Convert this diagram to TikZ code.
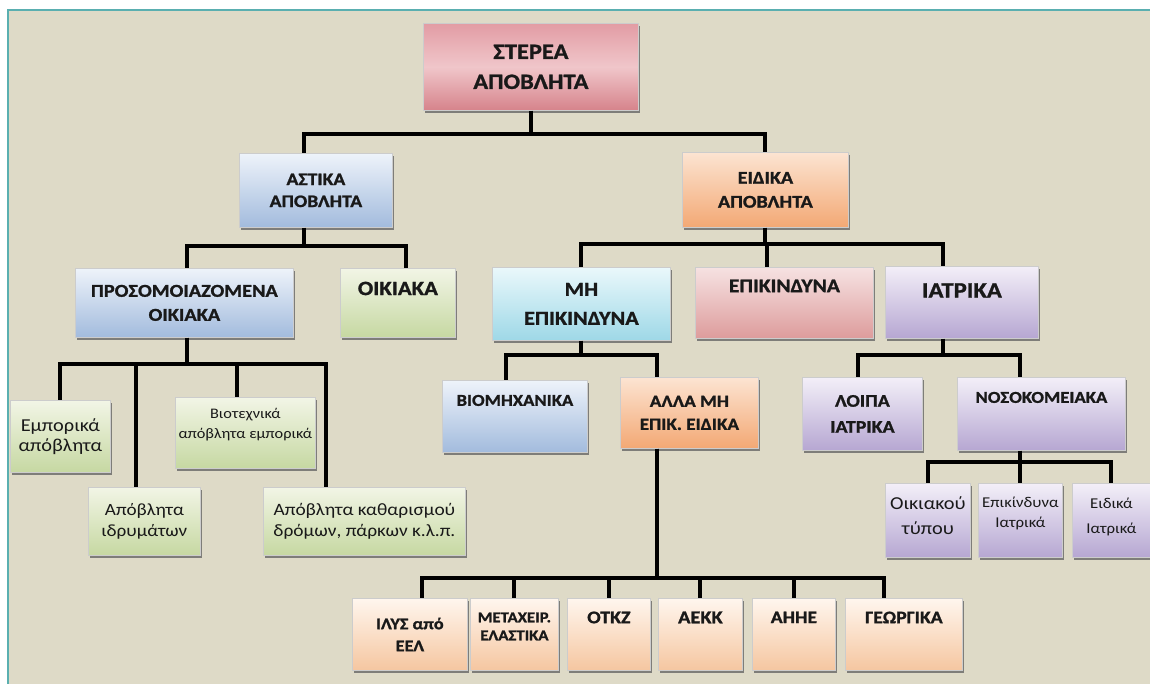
\documentclass[tikz,border=0pt]{standalone}
\usepackage{fontspec}
\setmainfont{Carlito}[FakeStretch=1.12, BoldFeatures={FakeBold=1.2}]
\usetikzlibrary{shadows}

\definecolor{bgbeige}{HTML}{DEDAC7}
\definecolor{frameteal}{HTML}{5AAFB0}
\definecolor{rootTop}{HTML}{E29CA4}
\definecolor{rootMid}{HTML}{F0C6CA}
\definecolor{rootBot}{HTML}{D6838B}
\definecolor{blueTop}{HTML}{EEF3FA}
\definecolor{blueBot}{HTML}{A2BBDD}
\definecolor{orngTop}{HTML}{FCE4D2}
\definecolor{orngBot}{HTML}{F3A874}
\definecolor{peachTop}{HTML}{FFF6EE}
\definecolor{peachBot}{HTML}{F5C6A0}
\definecolor{grnTop}{HTML}{F2F5E6}
\definecolor{grnBot}{HTML}{C6D8A2}
\definecolor{cyanTop}{HTML}{EAF8FB}
\definecolor{cyanBot}{HTML}{9ED8E7}
\definecolor{pinkTop}{HTML}{F6E2E2}
\definecolor{pinkBot}{HTML}{DD9C9C}
\definecolor{purpTop}{HTML}{F3EFF8}
\definecolor{purpBot}{HTML}{B6A7D2}

\newcommand{\fsz}[2]{\fontsize{\fpeval{#1*1.07}}{#2}\selectfont}

\tikzset{
    tbox/.style={anchor=north west, inner sep=0pt, align=center, draw=black!20,
        text=black!90,
        drop shadow={shadow xshift=0.8pt, shadow yshift=-1.5pt, fill=black!60, opacity=0.8}},
    rootbox/.style={tbox, top color=rootTop, bottom color=rootBot, middle color=rootMid},
    bluebox/.style={tbox, top color=blueTop, bottom color=blueBot},
    orngbox/.style={tbox, top color=orngTop, bottom color=orngBot},
    peachbox/.style={tbox, top color=peachTop, bottom color=peachBot},
    grnbox/.style={tbox, top color=grnTop, bottom color=grnBot},
    cyanbox/.style={tbox, top color=cyanTop, bottom color=cyanBot},
    pinkbox/.style={tbox, top color=pinkTop, bottom color=pinkBot},
    purpbox/.style={tbox, top color=purpTop, bottom color=purpBot},
    lift/.style={text depth=#1},
    conn/.style={line width=2pt, black},
}

\begin{document}
\begin{tikzpicture}[x=0.5pt, y=-0.5pt]
    \useasboundingbox (0,0) rectangle (1150,684);
    % background and frame
    \fill[white] (0,0) rectangle (1150,684);
    \fill[bgbeige] (8,10) rectangle (1150,684);
    \draw[frameteal, line width=1pt] (8,684) -- (8,10) -- (1150,10);

    % top levels
    \node[rootbox, minimum width=107.5pt, minimum height=43.5pt, font=\bfseries\fsz{10.2}{15}] (root) at (423,23) {ΣΤΕΡΕΑ\\ΑΠΟΒΛΗΤΑ};
    \node[bluebox, minimum width=76.5pt, minimum height=37pt, font=\bfseries\fsz{8.2}{11}] (asti) at (239,153) {ΑΣΤΙΚΑ\\ΑΠΟΒΛΗΤΑ};
    \node[orngbox, minimum width=83pt, minimum height=37.5pt, font=\bfseries\fsz{8.4}{12}] (eidi) at (682,152) {ΕΙΔΙΚΑ\\ΑΠΟΒΛΗΤΑ};

    % second level
    \node[bluebox, minimum width=109pt, minimum height=34.5pt, font=\bfseries\fsz{8.5}{12}] (pros) at (75,268) {ΠΡΟΣΟΜΟΙΑΖΟΜΕΝΑ\\ΟΙΚΙΑΚΑ};
    \node[grnbox, minimum width=57.5pt, minimum height=34.5pt, font=\bfseries\fsz{9.5}{12}, lift=14.5pt] (oiki) at (340,268) {ΟΙΚΙΑΚΑ};
    \node[cyanbox, minimum width=89pt, minimum height=36.5pt, font=\bfseries\fsz{9.3}{14.5}] (mhep) at (492,267) {ΜΗ\\ΕΠΙΚΙΝΔΥΝΑ};
    \node[pinkbox, minimum width=89pt, minimum height=35.5pt, font=\bfseries\fsz{9}{12}, lift=17pt] (epik) at (695,267) {ΕΠΙΚΙΝΔΥΝΑ};
    \node[purpbox, minimum width=76.5pt, minimum height=36pt, font=\bfseries\fsz{10.3}{12}, lift=12pt] (iatr) at (885,266) {ΙΑΤΡΙΚΑ};

    % third level
    \node[grnbox, minimum width=50pt, minimum height=36pt, font=\fsz{8.5}{10}] (empo) at (10,400) {Εμπορικά\\απόβλητα};
    \node[grnbox, minimum width=70pt, minimum height=35.5pt, font=\fsz{6.8}{10}, lift=9.5pt] (viot) at (175,397) {Βιοτεχνικά\\απόβλητα εμπορικά};
    \node[grnbox, minimum width=56pt, minimum height=34pt, font=\fsz{8}{10.5}] (idry) at (88,487) {Απόβλητα\\ιδρυμάτων};
    \node[grnbox, minimum width=101pt, minimum height=34pt, font=\fsz{8.1}{10.5}] (kath) at (263,487) {Απόβλητα καθαρισμού\\δρόμων, πάρκων κ.λ.π.};
    \node[bluebox, minimum width=72.5pt, minimum height=36pt, font=\bfseries\fsz{7.8}{10}, lift=16pt] (viom) at (442,380) {ΒΙΟΜΗΧΑΝΙΚΑ};
    \node[orngbox, minimum width=69pt, minimum height=35.5pt, font=\bfseries\fsz{8}{11.5}] (alla) at (620,377) {ΑΛΛΑ ΜΗ\\ΕΠΙΚ. ΕΙΔΙΚΑ};
    \node[purpbox, minimum width=60pt, minimum height=36.5pt, font=\bfseries\fsz{8.3}{13}] (loip) at (802,377) {ΛΟΙΠΑ\\ΙΑΤΡΙΚΑ};
    \node[purpbox, minimum width=84pt, minimum height=36.5pt, font=\bfseries\fsz{7.8}{10}, lift=16.5pt] (noso) at (957,377) {ΝΟΣΟΚΟΜΕΙΑΚΑ};

    % hospital waste
    \node[purpbox, minimum width=42.5pt, minimum height=37pt, font=\fsz{8.5}{12.5}, lift=5pt] (oikt) at (885,483) {Οικιακού\\τύπου};
    \node[purpbox, minimum width=42pt, minimum height=37pt, font=\fsz{7}{10}, lift=8pt] (epia) at (978,483) {Επικίνδυνα\\Ιατρικά};
    \node[purpbox, minimum width=39pt, minimum height=37pt, font=\fsz{7}{12.5}, lift=5pt] (eidk) at (1072,483) {Ειδικά\\Ιατρικά};

    % bottom row
    \node[peachbox, minimum width=57.5pt, minimum height=36pt, font=\bfseries\fsz{7.6}{11}] (ilys) at (352,598) {ΙΛΥΣ από\\ΕΕΛ};
    \node[peachbox, minimum width=44pt, minimum height=36pt, font=\bfseries\fsz{7}{9}, lift=8pt] (meta) at (470,598) {ΜΕΤΑΧΕΙΡ.\\ΕΛΑΣΤΙΚΑ};
    \node[peachbox, minimum width=41.5pt, minimum height=36pt, font=\bfseries\fsz{8.3}{10}, lift=17pt] (otkz) at (567,598) {ΟΤΚΖ};
    \node[peachbox, minimum width=42pt, minimum height=36pt, font=\bfseries\fsz{8.5}{10}, lift=17pt] (aekk) at (658,598) {ΑΕΚΚ};
    \node[peachbox, minimum width=41.5pt, minimum height=36pt, font=\bfseries\fsz{8.2}{10}, lift=17pt] (ahhe) at (752,598) {ΑΗΗΕ};
    \node[peachbox, minimum width=58.5pt, minimum height=36pt, font=\bfseries\fsz{8.2}{10}, lift=17pt] (geor) at (845,598) {ΓΕΩΡΓΙΚΑ};

    % connectors
    \draw[conn] (root.south) -- ++(0,23) -| ([xshift=-5.75pt]asti.north);
    \draw[conn] (root.south) -- ++(0,23) -| (eidi.north);

    \draw[conn] ([xshift=-6pt]asti.south) -- ++(0,18) -| ([xshift=1.5pt]pros.north);
    \draw[conn] ([xshift=-6pt]asti.south) -- ++(0,18) -| ([xshift=4.25pt]oiki.north);

    \draw[conn] (eidi.south) -- ++(0,16) -| (mhep.north);
    \draw[conn] (eidi.south) -- ++(0,16) -| ([xshift=-8.5pt]epik.north);
    \draw[conn] (eidi.south) -- ++(0,16) -| ([xshift=-9.25pt]iatr.north);

    \draw[conn] ([xshift=1.5pt]pros.south) -- ++(0,26) -| (empo.north);
    \draw[conn] ([xshift=1.5pt]pros.south) -- ++(0,26) -| ([xshift=-4pt]idry.north);
    \draw[conn] ([xshift=1.5pt]pros.south) -- ++(0,26) -| ([xshift=-4pt]viot.north);
    \draw[conn] ([xshift=1.5pt]pros.south) -- ++(0,26) -| ([xshift=-19.25pt]kath.north);

    \draw[conn] (mhep.south) -- ++(0,14) -| ([xshift=-4.25pt]viom.north);
    \draw[conn] (mhep.south) -- ++(0,14) -| ([xshift=-16pt]alla.north);

    \draw[conn] ([xshift=-9.25pt]iatr.south) -- ++(0,16) -| ([xshift=-2pt]loip.north);
    \draw[conn] ([xshift=-9.25pt]iatr.south) -- ++(0,16) -| ([xshift=-10.5pt]noso.north);

    \draw[conn] ([xshift=-10.5pt]noso.south) -- ++(0,11) -| (oikt.north);
    \draw[conn] ([xshift=-10.5pt]noso.south) -- ++(0,11) -| (epia.north);
    \draw[conn] ([xshift=-10.5pt]noso.south) -- ++(0,11) -| (eidk.north);

    \draw[conn] ([xshift=-16pt]alla.south) -- ++(0,129) -| ([xshift=6.25pt]ilys.north);
    \draw[conn] ([xshift=-16pt]alla.south) -- ++(0,129) -| (meta.north);
    \draw[conn] ([xshift=-16pt]alla.south) -- ++(0,129) -| (otkz.north);
    \draw[conn] ([xshift=-16pt]alla.south) -- ++(0,129) -| (aekk.north);
    \draw[conn] ([xshift=-16pt]alla.south) -- ++(0,129) -| (ahhe.north);
    \draw[conn] ([xshift=-16pt]alla.south) -- ++(0,129) -| ([xshift=-9.75pt]geor.north);
\end{tikzpicture}
\end{document}
